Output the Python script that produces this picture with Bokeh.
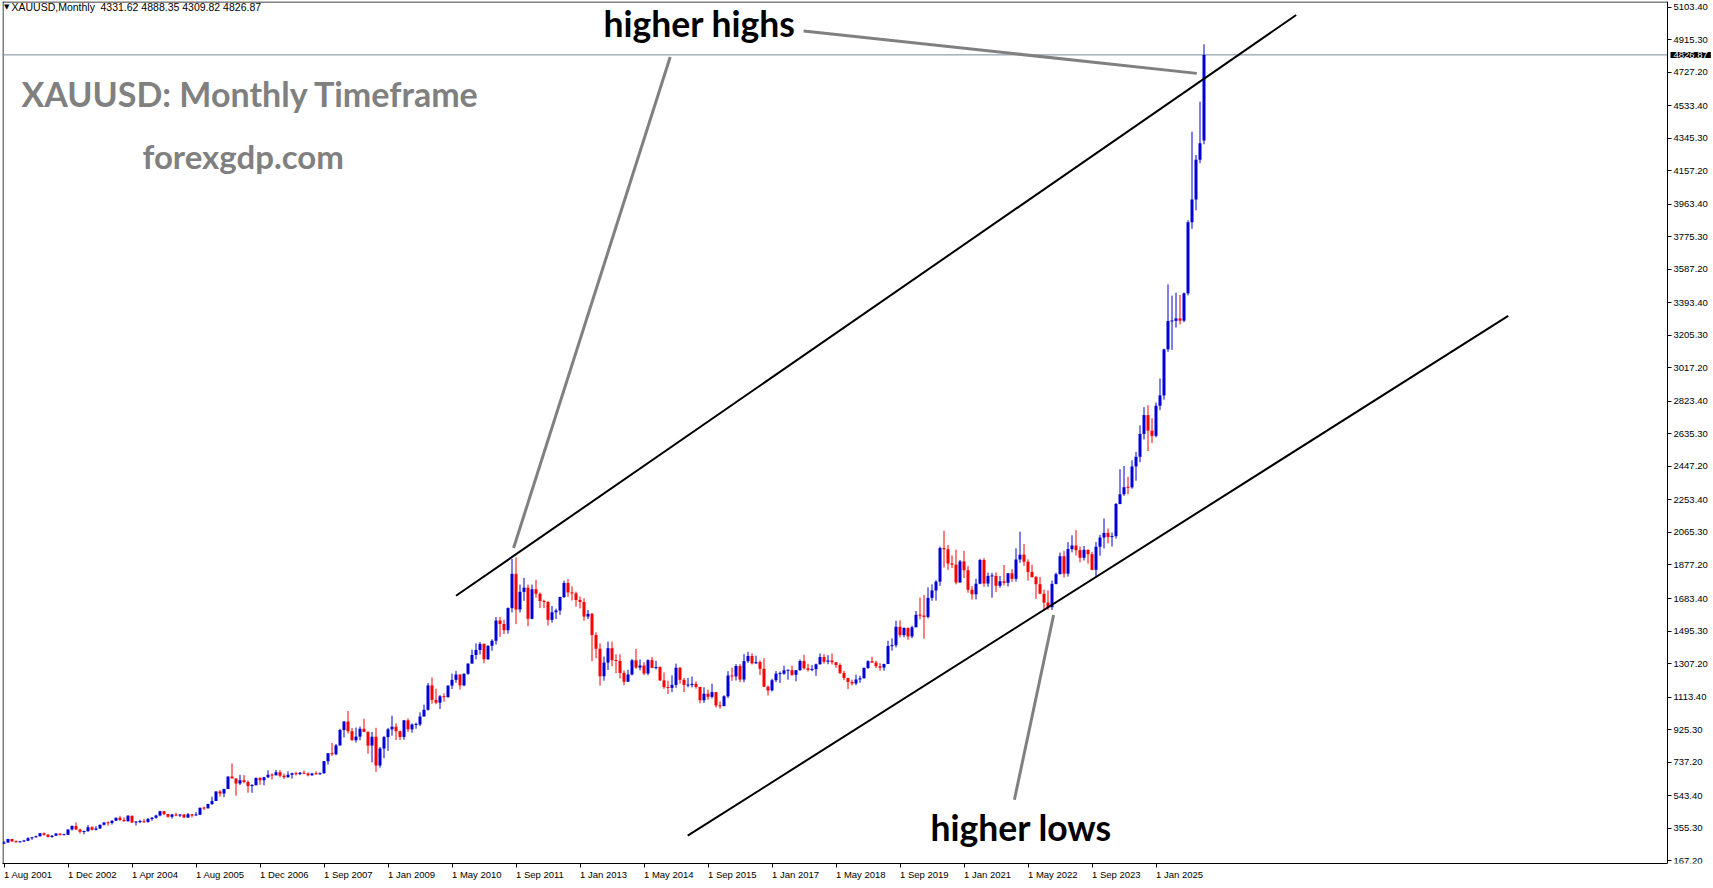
from bokeh.plotting import figure
from bokeh.models import FixedTicker, Label, ColumnDataSource
from bokeh.embed import file_html
from bokeh.resources import INLINE

# ---------------- data ----------------
symbol = "XAUUSD,Monthly"
tick_bars = [0, 16, 32, 48, 64, 80, 96, 112, 128, 144, 160, 176, 192, 208, 224, 240, 256, 272, 288]
tick_texts = ["1 Aug 2001", "1 Dec 2002", "1 Apr 2004", "1 Aug 2005", "1 Dec 2006", "1 Sep 2007",
              "1 Jan 2009", "1 May 2010", "1 Sep 2011", "1 Jan 2013", "1 May 2014", "1 Sep 2015",
              "1 Jan 2017", "1 May 2018", "1 Sep 2019", "1 Jan 2021", "1 May 2022", "1 Sep 2023",
              "1 Jan 2025"]
price_ticks = [167.20, 355.30, 543.40, 737.20, 925.30, 1113.40, 1307.20, 1495.30, 1683.40,
               1877.20, 2065.30, 2253.40, 2447.20, 2635.30, 2823.40, 3017.20, 3205.30, 3393.40,
               3587.20, 3775.30, 3963.40, 4157.20, 4345.30, 4533.40, 4727.20, 4915.30, 5103.40]

opens = [
    265, 273, 293, 279, 275,
    279, 282, 297, 303, 308, 326, 318, 305, 312, 324, 318, 318,
    347, 368, 348, 334, 337, 361, 346, 354, 375, 388, 385, 398,
    416, 402, 396, 427, 388, 393, 395, 391, 408, 415, 428, 453,
    438, 422, 435, 428, 435, 417, 436, 429, 433, 473, 470, 495,
    513, 568, 556, 582, 654, 643, 614, 632, 623, 599, 604, 646,
    632, 650, 665, 662, 679, 659, 650, 665, 673, 668, 676, 671, 662, 672, 668,
    673, 743, 789, 783,
    834, 923, 972, 916, 864, 885, 930, 912, 833, 884, 718, 816,
    882, 927, 942, 916, 883, 979, 927, 955, 955, 1001, 1040, 1181,
    1097, 1081, 1118, 1113, 1180, 1213, 1244, 1181, 1248, 1307, 1357, 1386,
    1421, 1332, 1410, 1439, 1556, 1536, 1500, 1628, 1826, 1620, 1722, 1746,
    1566, 1737, 1711, 1669, 1664, 1560, 1604, 1614, 1692, 1773, 1719, 1713,
    1675, 1663, 1579, 1595, 1472, 1393, 1234, 1313, 1396, 1327, 1323, 1253,
    1202, 1244, 1326, 1284, 1296, 1250, 1327, 1282, 1287, 1210, 1171, 1167,
    1184, 1283, 1213, 1183, 1183, 1190, 1172, 1095, 1133, 1115, 1142, 1065,
    1061, 1118, 1238, 1233, 1293, 1215, 1321, 1351, 1309, 1316, 1277, 1173,
    1152, 1211, 1249, 1249, 1268, 1269, 1242, 1269, 1322, 1280, 1271, 1275,
    1303, 1345, 1318, 1325, 1315, 1299, 1253, 1224, 1201, 1192, 1215, 1222,
    1282, 1321, 1313, 1292, 1284, 1305, 1409, 1413, 1520, 1472, 1513, 1464,
    1517, 1589, 1585, 1577, 1687, 1730, 1781, 1975, 1968, 1886, 1879, 1776,
    1898, 1847, 1734, 1708, 1769, 1906, 1770, 1814, 1814, 1757, 1783, 1774,
    1829, 1797, 1909, 1937, 1896, 1837, 1807, 1766, 1711, 1660, 1633, 1768,
    1824, 1928, 1827, 1969, 1990, 1963, 1919, 1965, 1940, 1849, 1983, 2036,
    2063, 2039, 2044, 2230, 2286, 2327, 2326, 2447, 2503, 2635, 2744, 2654,
    2624, 2798, 2858, 3124, 3288, 3289, 3303, 3290, 3448, 3859, 3990, 4220,
    4331.62,
]
highs = [
    282, 294, 293, 285, 280,
    288, 303, 304, 312, 328, 330, 321, 316, 326, 325, 323, 349,
    372, 389, 352, 341, 373, 366, 367, 376, 390, 394, 401, 417,
    427, 418, 431, 428, 396, 404, 409, 415, 420, 433, 456, 456,
    438, 438, 445, 437, 436, 443, 437, 449, 474, 479, 497, 538,
    569, 575, 584, 654, 730, 645, 664, 663, 631, 610, 649, 650,
    652, 690, 672, 692, 691, 671, 684, 676, 682, 680, 688, 678, 675, 685, 678,
    744, 790, 848, 842,
    930, 975, 1033, 935, 937, 943, 988, 915, 912, 936, 825, 889,
    935, 1006, 962, 919, 980, 990, 961, 966, 1025, 1070, 1195, 1227,
    1162, 1125, 1135, 1180, 1249, 1265, 1245, 1251, 1308, 1388, 1424, 1432,
    1424, 1413, 1448, 1576, 1577, 1561, 1632, 1912, 1921, 1764, 1803, 1764,
    1764, 1791, 1718, 1676, 1668, 1640, 1625, 1694, 1787, 1796, 1754, 1723,
    1695, 1685, 1617, 1600, 1488, 1424, 1348, 1434, 1434, 1361, 1361, 1267,
    1271, 1333, 1392, 1331, 1315, 1332, 1345, 1323, 1290, 1256, 1208, 1239,
    1307, 1287, 1224, 1224, 1232, 1205, 1174, 1170, 1157, 1191, 1142, 1088,
    1124, 1263, 1283, 1304, 1304, 1362, 1375, 1367, 1353, 1326, 1338, 1180,
    1220, 1264, 1261, 1295, 1273, 1296, 1270, 1331, 1358, 1306, 1299, 1307,
    1366, 1361, 1356, 1366, 1317, 1309, 1266, 1224, 1214, 1243, 1237, 1285,
    1326, 1347, 1324, 1310, 1306, 1439, 1453, 1555, 1557, 1517, 1516, 1526,
    1611, 1689, 1704, 1748, 1765, 1789, 1984, 2075, 1993, 1933, 1966, 1906,
    1959, 1872, 1755, 1798, 1913, 1917, 1833, 1832, 1835, 1814, 1877, 1831,
    1853, 1974, 2070, 1998, 1910, 1879, 1814, 1808, 1735, 1730, 1787, 1833,
    1949, 1959, 2009, 2049, 2079, 1984, 1987, 1966, 1953, 2010, 2052, 2146,
    2088, 2065, 2236, 2431, 2450, 2387, 2483, 2531, 2685, 2790, 2801, 2726,
    2817, 2956, 3128, 3500, 3435, 3452, 3439, 3453, 3871, 4383, 4248, 4556,
    4888.35,
]
lows = [
    264, 271, 278, 272, 272,
    276, 281, 288, 300, 307, 312, 302, 300, 310, 312, 315, 316,
    342, 345, 324, 320, 335, 342, 342, 351, 371, 370, 376, 397,
    398, 393, 394, 385, 371, 384, 386, 387, 398, 411, 424, 430,
    416, 411, 424, 420, 414, 414, 418, 428, 431, 460, 468, 490,
    513, 538, 535, 582, 645, 543, 605, 615, 560, 560, 603, 606,
    603, 645, 636, 660, 650, 640, 648, 642, 660, 662, 668, 655, 658, 665, 664,
    670, 723, 773, 777,
    833, 880, 902, 862, 850, 864, 912, 786, 736, 681, 705, 760,
    802, 890, 865, 865, 867, 912, 907, 930, 946, 1001, 1035, 1075,
    1072, 1045, 1087, 1110, 1160, 1196, 1157, 1176, 1242, 1307, 1331, 1360,
    1309, 1329, 1381, 1417, 1462, 1478, 1480, 1603, 1535, 1603, 1670, 1523,
    1563, 1688, 1628, 1627, 1527, 1544, 1565, 1589, 1686, 1693, 1672, 1636,
    1626, 1555, 1564, 1321, 1338, 1180, 1208, 1270, 1292, 1251, 1221, 1181,
    1202, 1239, 1277, 1268, 1240, 1240, 1285, 1273, 1206, 1161, 1131, 1142,
    1167, 1191, 1142, 1170, 1169, 1162, 1077, 1080, 1098, 1106, 1052, 1046,
    1061, 1108, 1207, 1209, 1200, 1199, 1311, 1302, 1305, 1241, 1171, 1123,
    1146, 1200, 1195, 1242, 1214, 1236, 1205, 1266, 1272, 1261, 1263, 1236,
    1302, 1307, 1303, 1302, 1282, 1246, 1211, 1160, 1180, 1182, 1196, 1221,
    1276, 1310, 1281, 1266, 1266, 1306, 1382, 1401, 1459, 1459, 1445, 1454,
    1517, 1563, 1451, 1568, 1670, 1671, 1757, 1863, 1849, 1860, 1765, 1775,
    1802, 1717, 1677, 1678, 1766, 1751, 1751, 1688, 1721, 1746, 1759, 1753,
    1780, 1781, 1890, 1872, 1787, 1805, 1681, 1709, 1615, 1618, 1617, 1765,
    1823, 1805, 1810, 1950, 1932, 1893, 1903, 1885, 1847, 1810, 1931, 1973,
    2002, 1984, 2030, 2228, 2277, 2286, 2318, 2364, 2471, 2603, 2536, 2583,
    2615, 2772, 2833, 3110, 3121, 3250, 3268, 3281, 3436, 3821, 3928, 4200,
    4309.82,
]
closes = [
    273, 293, 279, 275, 279,
    282, 297, 303, 308, 326, 318, 305, 312, 324, 318, 318, 347,
    368, 348, 334, 337, 361, 346, 354, 375, 388, 385, 398, 416,
    402, 396, 427, 388, 393, 395, 391, 408, 415, 428, 453, 438,
    422, 435, 428, 435, 417, 436, 429, 433, 473, 470, 495, 513,
    568, 556, 582, 654, 643, 614, 632, 623, 599, 604, 646, 632,
    650, 665, 662, 679, 659, 650, 665, 673, 668, 676, 671, 662, 672, 668, 673,
    743, 789, 783, 834,
    923, 972, 916, 864, 885, 930, 912, 833, 884, 718, 816, 882,
    927, 942, 916, 883, 979, 927, 955, 955, 1001, 1040, 1181, 1097,
    1081, 1118, 1113, 1180, 1213, 1244, 1181, 1248, 1307, 1357, 1386, 1421,
    1332, 1410, 1439, 1556, 1536, 1500, 1628, 1826, 1620, 1722, 1746, 1566,
    1737, 1711, 1669, 1664, 1560, 1604, 1614, 1692, 1773, 1719, 1713, 1675,
    1663, 1579, 1595, 1472, 1393, 1234, 1313, 1396, 1327, 1323, 1253, 1202,
    1244, 1326, 1284, 1296, 1250, 1327, 1282, 1287, 1210, 1171, 1167, 1184,
    1283, 1213, 1183, 1183, 1190, 1172, 1095, 1133, 1115, 1142, 1065, 1061,
    1118, 1238, 1233, 1293, 1215, 1321, 1351, 1309, 1316, 1277, 1173, 1152,
    1211, 1249, 1249, 1268, 1269, 1242, 1269, 1322, 1280, 1271, 1275, 1303,
    1345, 1318, 1325, 1315, 1299, 1253, 1224, 1201, 1192, 1215, 1222, 1282,
    1321, 1313, 1292, 1284, 1305, 1409, 1413, 1520, 1472, 1513, 1464, 1517,
    1589, 1585, 1577, 1687, 1730, 1781, 1975, 1968, 1886, 1879, 1776, 1898,
    1847, 1734, 1708, 1769, 1906, 1770, 1814, 1814, 1757, 1783, 1774, 1829,
    1797, 1909, 1937, 1896, 1837, 1807, 1766, 1711, 1660, 1633, 1768, 1824,
    1928, 1827, 1969, 1990, 1963, 1919, 1965, 1940, 1849, 1983, 2036, 2063,
    2039, 2044, 2230, 2286, 2327, 2326, 2447, 2503, 2635, 2744, 2654, 2624,
    2798, 2858, 3124, 3288, 3289, 3303, 3290, 3448, 3859, 3990, 4220, 4316,
    4826.87,
]
assert len(opens) == len(highs) == len(lows) == len(closes) == 301

# analyst drawings (bar index, price)
upper_line = ([113.0, 323.05], [1699.4, 5057.3])
lower_line = ([170.93, 376.05], [312.2, 3317.9])
pointer_hh_left = ([166.55, 127.4], [4814.4, 1975.7])
pointer_hh_right = ([199.9, 298.2], [4965.2, 4720.0])
pointer_hl = ([252.6, 262.4], [519.4, 1588.3])

# ---------------- figure ----------------
BAR_PX = 4.0
FRAME_W = 1711          # frame spans to the right edge; the price scale sits inside it
FRAME_H = 866
x_start = -0.375
x_end = x_start + FRAME_W / BAR_PX
axis_x = x_start + 1665 / BAR_PX   # where the price scale line is drawn
y_top = 5135.6
y_bot = 151.1
one_px = (y_top - y_bot) / FRAME_H

p = figure(width=1713, height=888, output_backend="svg", toolbar_location=None, tools="",
           x_range=(x_start, x_end), y_range=(y_bot, y_top),
           y_axis_location="right", x_axis_location="below",
           min_border_left=2, min_border_right=0, min_border_top=1, min_border_bottom=21)
p.background_fill_color = "white"
p.border_fill_color = "white"
p.outline_line_color = None
p.grid.visible = False

blue = "#0000D8"
red = "#FF0000"
n = len(closes)
xs = list(range(n))
tops, bots, cols = [], [], []
for o, c in zip(opens, closes):
    t, b = max(o, c), min(o, c)
    if t - b < one_px:
        m = (t + b) / 2
        t, b = m + one_px / 2, m - one_px / 2
    tops.append(t)
    bots.append(b)
    cols.append(blue if c >= o else red)
src = ColumnDataSource(dict(x=xs, high=highs, low=lows, top=tops, bottom=bots, color=cols))

# chart frame borders (left, top)
p.segment(x0=[x_start + 0.125, x_start], y0=[y_bot, y_top - 0.5 * one_px],
          x1=[x_start + 0.125, axis_x], y1=[y_top, y_top - 0.5 * one_px],
          line_color="black", line_width=1)

# current price line (up to the price scale)
p.segment(x0=[x_start], y0=[closes[-1]], x1=[axis_x], y1=[closes[-1]],
          line_color="#778899", line_width=1)

p.segment(x0="x", y0="low", x1="x", y1="high", line_color="color", line_width=1, source=src)
p.vbar(x="x", width=0.75, top="top", bottom="bottom", fill_color="color", line_color=None, source=src)

# channel lines
for xx, yy in (upper_line, lower_line):
    p.line(xx, yy, line_color="black", line_width=2)
# pointer lines
for xx, yy in (pointer_hh_left, pointer_hh_right, pointer_hl):
    p.line(xx, yy, line_color="#808080", line_width=3)

# axes
xa = p.xaxis[0]
xa.ticker = FixedTicker(ticks=tick_bars)
xa.major_label_overrides = {b: t for b, t in zip(tick_bars, tick_texts)}
xa.major_label_orientation = -0.0001
xa.bounds = (x_start, axis_x)
xa.major_tick_in = 0
xa.major_tick_out = 4
xa.minor_tick_out = 0
xa.minor_tick_in = 0
xa.major_label_standoff = 7
xa.axis_line_color = "black"
xa.major_tick_line_color = "black"
xa.major_label_text_font = "Liberation Sans"
xa.major_label_text_font_size = "9.5px"
xa.major_label_text_color = "black"

ya = p.yaxis[0]
ya.fixed_location = axis_x
ya.ticker = FixedTicker(ticks=price_ticks)
ya.major_label_overrides = {v: f"{v:.2f}" for v in price_ticks}
ya.major_tick_in = 0
ya.major_tick_out = 4
ya.minor_tick_out = 0
ya.minor_tick_in = 0
ya.major_label_standoff = 2
ya.axis_line_color = "black"
ya.major_tick_line_color = "black"
ya.major_label_text_font = "Liberation Sans"
ya.major_label_text_font_size = "9.5px"
ya.major_label_text_color = "black"

# price tag on the scale
p.add_layout(Label(x=axis_x + 0.75, y=closes[-1], x_units="data", y_units="data", level="overlay",
                   text=f"{closes[-1]:.2f}", text_color="white", text_font="Liberation Sans",
                   text_font_size="9.5px", text_align="left", text_baseline="middle",
                   background_fill_color="black", padding=(3, 0)))

# header and annotations
def lab(sx, sy, text, size, color="black", bold=False, font="Lato"):
    p.add_layout(Label(x=sx, y=sy, x_units="screen", y_units="screen", text=text,
                       text_color=color, text_font=font, text_font_size=size,
                       text_font_style="bold" if bold else "normal",
                       text_align="left", text_baseline="middle"))

lab(1.5, 857, "\u25BC", "7px", font="DejaVu Sans")
lab(9, 857, symbol, "10.5px", font="Liberation Sans")
lab(98, 857, f"{opens[-1]:.2f} {highs[-1]:.2f} {lows[-1]:.2f} {closes[-1]:.2f}", "10.5px",
    font="Liberation Sans")

lab(19, 770.5, "XAUUSD: Monthly Timeframe", "34px", color="#808080", bold=True)
lab(140, 707.5, "forexgdp.com", "33px", color="#808080", bold=True)
lab(601, 840, "higher highs", "35.5px", bold=True)
lab(928, 36, "higher lows", "35.5px", bold=True)

open("out.html", "w").write(file_html(p, INLINE))
